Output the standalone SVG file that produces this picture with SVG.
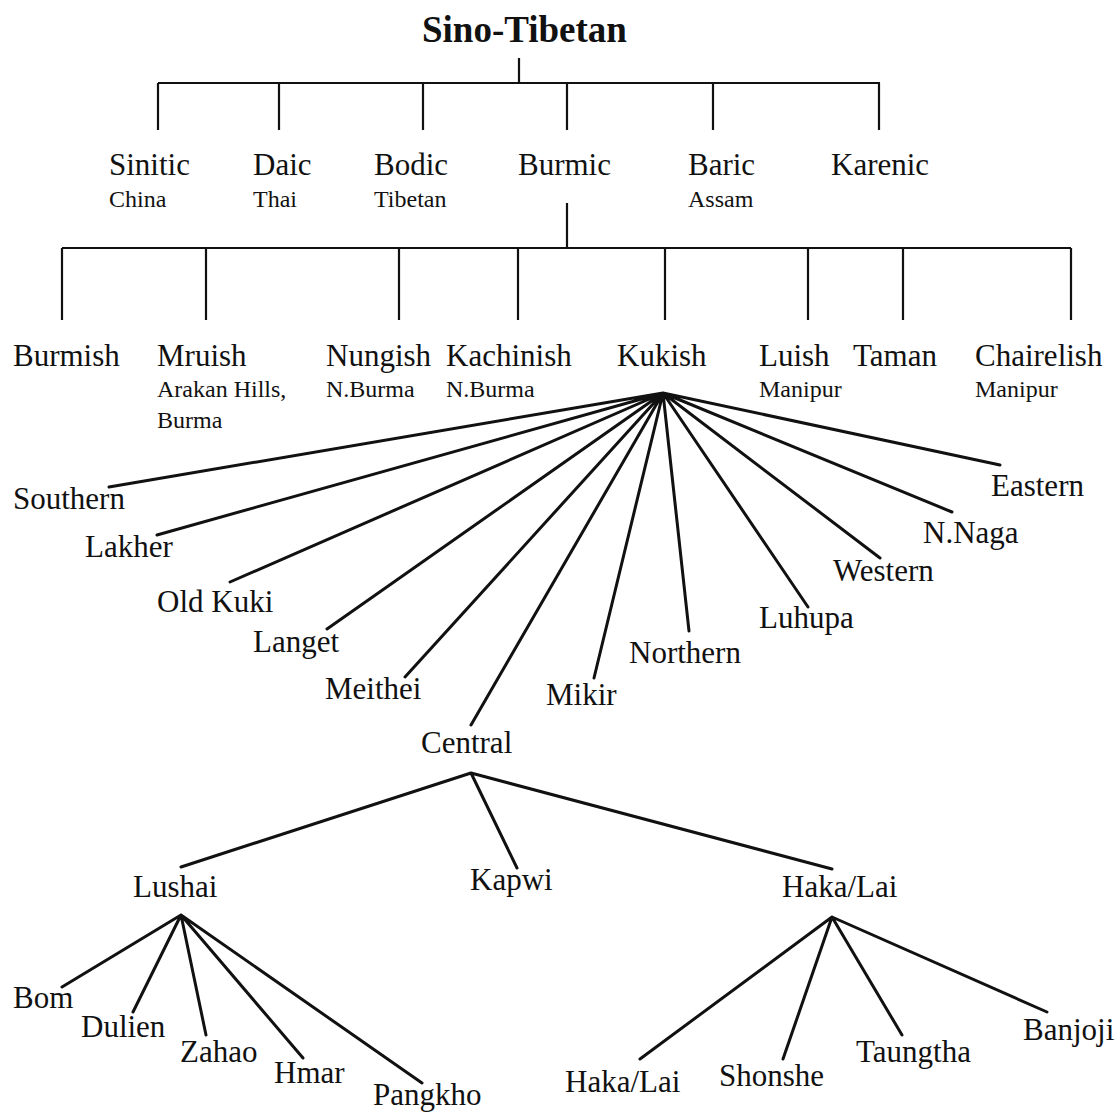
<svg xmlns="http://www.w3.org/2000/svg" width="1115" height="1113" viewBox="0 0 1115 1113">
<style>
.m{font-family:"Liberation Serif","Times New Roman",serif;font-size:31px;fill:#111}
.s{font-family:"Liberation Serif","Times New Roman",serif;font-size:24px;fill:#111}
.t{font-family:"Liberation Serif","Times New Roman",serif;font-size:37px;font-weight:bold;fill:#111}
.b{stroke:#111;stroke-width:2.2;fill:none}
.f{stroke:#111;stroke-width:3;fill:none;stroke-linecap:round}
</style>
<rect width="1115" height="1113" fill="#fff"/>
<g id="connectors">
<path class="b" d="M519 58V83M158 83H880M158 83V130M279 83V130M423 83V130M567 83V130M713 83V130M879 83V130"/>
<path class="b" d="M567 203V248M62 248H1071M62 248V320M206 248V320M399 248V320M518 248V320M665 248V320M808 248V320M903 248V320M1071 248V320"/>
<path class="f" d="M663 393L109 487M663 393L157 535M663 393L230 582M663 393L327 629M663 393L405 677M663 393L471 725M663 393L594 678M663 393L689 631M663 393L808 607M663 393L880 558M663 393L952 512M663 393L1000 465"/>
<path class="f" d="M471 773L181 867M471 773L517 868M471 773L832 869"/>
<path class="f" d="M181 915L62 987M181 915L133 1012M181 915L206 1035M181 915L303 1058M181 915L422 1083"/>
<path class="f" d="M832 917L640 1059M832 917L783 1059M832 917L902 1035M832 917L1047 1012"/>
</g>
<g id="sino-tibetan"><text class="t" x="422" y="42">Sino-Tibetan</text></g>
<g id="sinitic"><text class="m" x="109" y="175">Sinitic</text><text class="s" x="109" y="207">China</text></g>
<g id="daic"><text class="m" x="253" y="175">Daic</text><text class="s" x="253" y="207">Thai</text></g>
<g id="bodic"><text class="m" x="374" y="175">Bodic</text><text class="s" x="374" y="207">Tibetan</text></g>
<g id="burmic"><text class="m" x="518" y="175">Burmic</text></g>
<g id="baric"><text class="m" x="688" y="175">Baric</text><text class="s" x="688" y="207">Assam</text></g>
<g id="karenic"><text class="m" x="831" y="175">Karenic</text></g>
<g id="burmish"><text class="m" x="13" y="366">Burmish</text></g>
<g id="mruish"><text class="m" x="157" y="366">Mruish</text><text class="s" x="157" y="397">Arakan Hills,</text><text class="s" x="157" y="428">Burma</text></g>
<g id="nungish"><text class="m" x="326" y="366">Nungish</text><text class="s" x="326" y="397">N.Burma</text></g>
<g id="kachinish"><text class="m" x="446" y="366">Kachinish</text><text class="s" x="446" y="397">N.Burma</text></g>
<g id="kukish"><text class="m" x="617" y="366">Kukish</text></g>
<g id="luish"><text class="m" x="759" y="366">Luish</text><text class="s" x="759" y="397">Manipur</text></g>
<g id="taman"><text class="m" x="853" y="366">Taman</text></g>
<g id="chairelish"><text class="m" x="975" y="366">Chairelish</text><text class="s" x="975" y="397">Manipur</text></g>
<g id="southern"><text class="m" x="13" y="509">Southern</text></g>
<g id="lakher"><text class="m" x="85" y="557">Lakher</text></g>
<g id="old-kuki"><text class="m" x="157" y="612">Old Kuki</text></g>
<g id="langet"><text class="m" x="253" y="652">Langet</text></g>
<g id="meithei"><text class="m" x="325" y="699">Meithei</text></g>
<g id="central"><text class="m" x="421" y="753">Central</text></g>
<g id="mikir"><text class="m" x="546" y="705">Mikir</text></g>
<g id="northern"><text class="m" x="629" y="663">Northern</text></g>
<g id="luhupa"><text class="m" x="759" y="628">Luhupa</text></g>
<g id="western"><text class="m" x="833" y="581">Western</text></g>
<g id="n-naga"><text class="m" x="923" y="543">N.Naga</text></g>
<g id="eastern"><text class="m" x="991" y="496">Eastern</text></g>
<g id="lushai"><text class="m" x="133" y="897">Lushai</text></g>
<g id="kapwi"><text class="m" x="470" y="890">Kapwi</text></g>
<g id="haka-lai"><text class="m" x="782" y="897">Haka/Lai</text></g>
<g id="bom"><text class="m" x="13" y="1008">Bom</text></g>
<g id="dulien"><text class="m" x="81" y="1037">Dulien</text></g>
<g id="zahao"><text class="m" x="180" y="1062">Zahao</text></g>
<g id="hmar"><text class="m" x="274" y="1083">Hmar</text></g>
<g id="pangkho"><text class="m" x="373" y="1105">Pangkho</text></g>
<g id="haka-lai-2"><text class="m" x="565" y="1092">Haka/Lai</text></g>
<g id="shonshe"><text class="m" x="719" y="1086">Shonshe</text></g>
<g id="taungtha"><text class="m" x="856" y="1062">Taungtha</text></g>
<g id="banjoji"><text class="m" x="1023" y="1040">Banjoji</text></g>
</svg>
